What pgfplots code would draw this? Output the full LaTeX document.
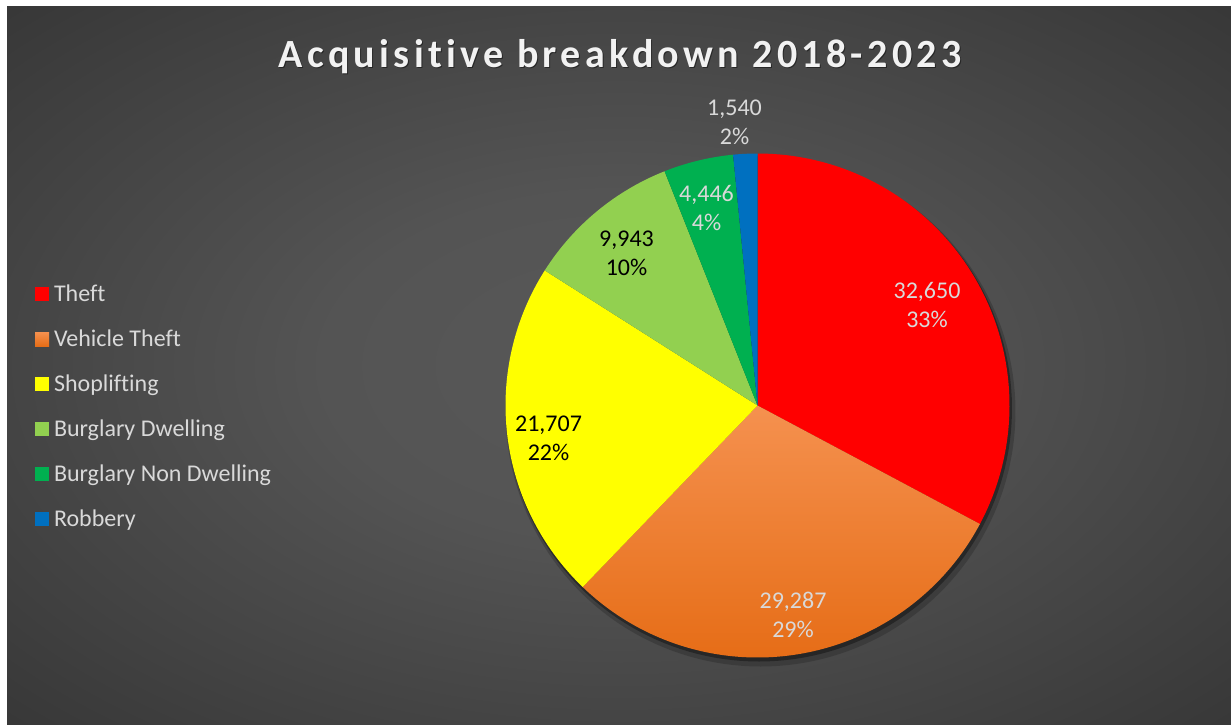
\documentclass[border=0pt]{standalone}
\usepackage{pgfplots}
\pgfplotsset{compat=1.18}
\usepackage{pgfplotstable}
\usepackage{fontspec}
\setmainfont{Carlito}[Ligatures=NoCommon]

\definecolor{cTheft}{HTML}{FF0000}
\definecolor{cVehTop}{HTML}{F5914F}
\definecolor{cVehBot}{HTML}{E66D17}
\definecolor{cShop}{HTML}{FFFF00}
\definecolor{cBD}{HTML}{92D050}
\definecolor{cBND}{HTML}{00B050}
\definecolor{cRob}{HTML}{0070C0}
\definecolor{lbl}{HTML}{D9D9D9}
\definecolor{ttl}{HTML}{F2F2F2}
\definecolor{bgin}{HTML}{585858}
\definecolor{bgout}{HTML}{262626}

\pgfdeclareradialshading{bgrad}{\pgfpoint{0bp}{0bp}}{color(0bp)=(bgin); color(12bp)=(bgin!92!bgout); color(50bp)=(bgout); color(100bp)=(bgout)}

\pgfplotstableread{
name value
Theft 32650
VehicleTheft 29287
Shoplifting 21707
BurglaryDwelling 9943
BurglaryNonDwelling 4446
Robbery 1540
}\piedata

% total and cumulative angles (clockwise from 12 o'clock)
\def\pietotal{0}
\pgfplotsforeachungrouped \i in {0,...,5}{%
  \pgfplotstablegetelem{\i}{value}\of\piedata
  \edef\pietotal{\fpeval{\pietotal+\pgfplotsretval}}%
}
\def\cum{0}
\newcommand\slicedef[2]{%
  \pgfplotstablegetelem{#1}{value}\of\piedata
  \expandafter\edef\csname start#2\endcsname{\cum}%
  \edef\cum{\fpeval{round(\cum+360*\pgfplotsretval/\pietotal,4)}}%
  \expandafter\edef\csname end#2\endcsname{\cum}%
}
\slicedef{0}{a}\slicedef{1}{b}\slicedef{2}{c}\slicedef{3}{d}\slicedef{4}{e}\slicedef{5}{f}

\def\cx{757.5}
\def\cy{405.5}
\def\rr{252}

\begin{document}
\begin{tikzpicture}
\useasboundingbox (0,0) rectangle (615.5pt,362pt);
\fill[white] (0,0) rectangle (615.5pt,362pt);
\shade[shading=bgrad] (3.5pt,0pt) rectangle (615.5pt,358.5pt);
\begin{axis}[
  x=0.5pt, y=0.5pt, y dir=reverse,
  xmin=0, xmax=1231, ymin=0, ymax=724,
  at={(0,0)}, anchor=south west,
  hide axis, clip=false,
  legend cell align=left,
  legend image code/.code={\fill[#1] (0pt,-3.5pt) rectangle (7pt,3.5pt);},
  legend style={at={(axis cs:35,286.5)}, anchor=north west,
    draw=none, fill=none, inner sep=0pt, outer sep=0pt,
    row sep=15pt, column sep=2.5pt,
    font=\fontsize{12}{14}\selectfont, text=lbl,
    nodes={inner sep=0pt, text height=7.5pt, text depth=0pt}},
]
% shadow of the pie
\addplot[forget plot, fill=black, fill opacity=0.18, draw=none, domain=0:360, samples=180]
  ({\cx+3+(\rr+3)*sin(x)},{\cy+6+(\rr+3)*cos(x)}) -- cycle;
\addplot[forget plot, fill=black, fill opacity=0.35, draw=none, domain=0:360, samples=180]
  ({\cx+1.5+(\rr+1)*sin(x)},{\cy+3+(\rr+1)*cos(x)}) -- cycle;

\addplot[fill=cTheft, draw=none, domain=\starta:\enda, samples=120]
  ({\cx+\rr*sin(x)},{\cy-\rr*cos(x)}) -- (axis cs:\cx,\cy) -- cycle;
\addlegendentry{Theft}
\addplot[top color=cVehTop, bottom color=cVehBot, draw=none, domain=\startb:\endb, samples=120]
  ({\cx+\rr*sin(x)},{\cy-\rr*cos(x)}) -- (axis cs:\cx,\cy) -- cycle;
\addlegendentry{Vehicle Theft}
\addplot[fill=cShop, draw=none, domain=\startc:\endc, samples=100]
  ({\cx+\rr*sin(x)},{\cy-\rr*cos(x)}) -- (axis cs:\cx,\cy) -- cycle;
\addlegendentry{Shoplifting}
\addplot[fill=cBD, draw=none, domain=\startd:\endd, samples=60]
  ({\cx+\rr*sin(x)},{\cy-\rr*cos(x)}) -- (axis cs:\cx,\cy) -- cycle;
\addlegendentry{Burglary Dwelling}
\addplot[fill=cBND, draw=none, domain=\starte:\ende, samples=40]
  ({\cx+\rr*sin(x)},{\cy-\rr*cos(x)}) -- (axis cs:\cx,\cy) -- cycle;
\addlegendentry{Burglary Non Dwelling}
\addplot[fill=cRob, draw=none, domain=\startf:\endf, samples=20]
  ({\cx+\rr*sin(x)},{\cy-\rr*cos(x)}) -- (axis cs:\cx,\cy) -- cycle;
\addlegendentry{Robbery}

% data labels
\begin{scope}[every node/.style={align=center, font=\fontsize{12}{14.5}\selectfont, inner sep=0pt}]
\node[text=lbl] at (axis cs:927,304.5) {32,650\\33\%};
\node[text=lbl] at (axis cs:793,614.5) {29,287\\29\%};
\node[text=black] at (axis cs:548.5,438) {21,707\\22\%};
\node[text=black] at (axis cs:626.5,253) {9,943\\10\%};
\node[text=lbl] at (axis cs:706.5,208) {4,446\\4\%};
\node[text=lbl] at (axis cs:734.5,122) {1,540\\2\%};
\end{scope}

% title
\node[anchor=base, text=black, opacity=0.45, font=\fontsize{20}{24}\selectfont\bfseries\addfontfeature{LetterSpace=10.8}, inner sep=0pt]
  at (axis cs:621,68.5) {Acquisitive breakdown 2018-2023};
\node[anchor=base, text=ttl, font=\fontsize{20}{24}\selectfont\bfseries\addfontfeature{LetterSpace=10.8}, inner sep=0pt]
  at (axis cs:620,67) {Acquisitive breakdown 2018-2023};
\end{axis}
\end{tikzpicture}
\end{document}
